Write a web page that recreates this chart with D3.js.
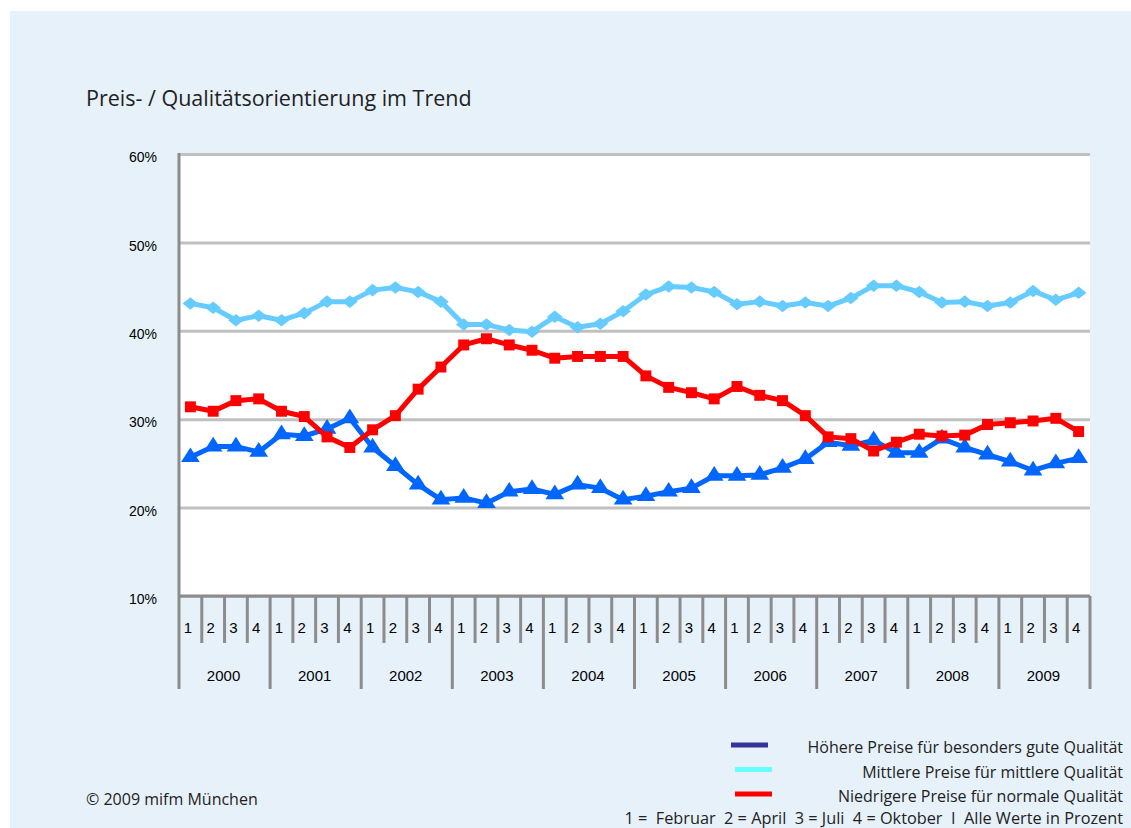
<!DOCTYPE html>
<html>
<head>
<meta charset="utf-8">
<script src="https://cdn.jsdelivr.net/npm/d3@7"></script>
<style>
  body { margin: 0; background: #fff; }
  svg { display: block; }
</style>
</head>
<body>
<script>
const years = ['2000', '2001', '2002', '2003', '2004', '2005', '2006', '2007', '2008', '2009']
const quarters = ['1', '2', '3', '4']
const yTicks = [10, 20, 30, 40, 50, 60]

// Höhere Preise für besonders gute Qualität
const hoehere = [25.7, 26.9, 26.9, 26.3, 28.3, 28.1, 28.9, 30.1, 26.8, 24.7,
  22.6, 20.9, 21.1, 20.5, 21.8, 22.1, 21.5, 22.6, 22.2, 20.9,
  21.3, 21.8, 22.2, 23.6, 23.6, 23.7, 24.5, 25.5, 27.4, 27.0,
  27.6, 26.2, 26.2, 27.8, 26.8, 26.0, 25.2, 24.2, 25.0, 25.6]
// Mittlere Preise für mittlere Qualität
const mittlere = [43.1, 42.6, 41.2, 41.7, 41.2, 42.0, 43.3, 43.3, 44.6, 44.9,
  44.4, 43.3, 40.7, 40.7, 40.1, 39.9, 41.6, 40.4, 40.8, 42.2,
  44.1, 45.0, 44.9, 44.4, 43.0, 43.3, 42.8, 43.2, 42.8, 43.7,
  45.1, 45.1, 44.4, 43.2, 43.3, 42.8, 43.2, 44.5, 43.5, 44.3]
// Niedrigere Preise für normale Qualität
const niedrigere = [31.4, 30.9, 32.1, 32.3, 30.9, 30.3, 28.0, 26.8, 28.8, 30.4,
  33.4, 35.9, 38.4, 39.1, 38.4, 37.8, 36.9, 37.1, 37.1, 37.1,
  34.9, 33.6, 33.0, 32.3, 33.7, 32.7, 32.1, 30.4, 28.0, 27.8,
  26.4, 27.4, 28.3, 28.1, 28.2, 29.4, 29.6, 29.8, 30.1, 28.6]

const seriesNames = [
  'Höhere Preise für besonders gute Qualität',
  'Mittlere Preise für mittlere Qualität',
  'Niedrigere Preise für normale Qualität'
]

const width = 1131
const height = 828
const plot = { left: 179, right: 1090, top: 154, bottom: 596 }
const sans = '"Open Sans", sans-serif'
const arial = '"Liberation Sans", Arial, sans-serif'

const periods = []
years.forEach(y => quarters.forEach(q => periods.push(y + '-' + q)))

const svg = d3.select('body').append('svg')
  .attr('width', width)
  .attr('height', height)

svg.append('rect')
  .attr('x', 10).attr('y', 11)
  .attr('width', width - 10).attr('height', height - 11)
  .attr('fill', '#e7f1fa')

svg.append('rect')
  .attr('x', plot.left).attr('y', plot.top)
  .attr('width', plot.right - plot.left).attr('height', plot.bottom - plot.top)
  .attr('fill', '#fff')

const x = d3.scaleBand()
  .domain(periods)
  .range([plot.left, plot.right])
  .padding(0)

const y = d3.scaleLinear()
  .domain([10, 60])
  .range([plot.bottom, plot.top])

// gridlines + y labels
const yAxis = svg.append('g')
  .attr('transform', 'translate(' + plot.left + ',0)')
  .call(d3.axisLeft(y)
    .tickValues(yTicks)
    .tickSize(-(plot.right - plot.left))
    .tickPadding(22)
    .tickFormat(d => d + '%'))
yAxis.select('.domain').remove()
yAxis.selectAll('.tick line')
  .attr('stroke', '#c0c0c0')
  .attr('stroke-width', 3)
yAxis.selectAll('.tick text')
  .attr('dy', '0.55em')
  .attr('fill', '#000')
  .style('font-family', arial)
  .style('font-size', '14px')

// x axis: boundary ticks, quarter and year labels
const xAxis = svg.append('g')
const bounds = d3.range(periods.length + 1)
const bx = i => i < periods.length ? x(periods[i]) : plot.right

xAxis.selectAll('line.tick')
  .data(bounds)
  .join('line')
  .attr('class', 'tick')
  .attr('x1', bx).attr('x2', bx)
  .attr('y1', plot.bottom)
  .attr('y2', i => i % 4 === 0 ? 689 : 643)
  .attr('stroke', '#8c8c8c')
  .attr('stroke-width', 3)

xAxis.selectAll('text.q')
  .data(periods)
  .join('text')
  .attr('class', 'q')
  .attr('x', d => x(d) + x.bandwidth() / 2 - 2.5)
  .attr('y', 633)
  .attr('text-anchor', 'middle')
  .style('font-family', arial)
  .style('font-size', '15px')
  .text(d => d.split('-')[1])

xAxis.selectAll('text.yr')
  .data(years)
  .join('text')
  .attr('class', 'yr')
  .attr('x', d => x(d + '-1') + x.bandwidth() * 2 - 1)
  .attr('y', 681)
  .attr('text-anchor', 'middle')
  .style('font-family', arial)
  .style('font-size', '15px')
  .text(d => d)

// axis lines
svg.append('line')
  .attr('x1', plot.left).attr('x2', plot.right)
  .attr('y1', plot.bottom).attr('y2', plot.bottom)
  .attr('stroke', '#8c8c8c').attr('stroke-width', 3)
svg.append('line')
  .attr('x1', plot.left).attr('x2', plot.left)
  .attr('y1', plot.top - 1).attr('y2', plot.bottom)
  .attr('stroke', '#8c8c8c').attr('stroke-width', 3)

// series
const series = [
  { values: hoehere, color: '#0066ff', symbol: d3.symbolTriangle, size: 125, sx: 1.1 },
  { values: mittlere, color: '#66ccff', symbol: d3.symbolDiamond2, size: 100, sx: 1.25 },
  { values: niedrigere, color: '#ff0000', symbol: d3.symbolSquare, size: 120, sx: 1 }
]

const cx = i => x(periods[i]) + x.bandwidth() / 2
const line = d3.line()
  .x((d, i) => cx(i))
  .y(d => y(d))

series.forEach(s => {
  const g = svg.append('g')
  g.append('path')
    .datum(s.values)
    .attr('d', line)
    .attr('fill', 'none')
    .attr('stroke', s.color)
    .attr('stroke-width', 5)
    .attr('stroke-linejoin', 'round')
  g.selectAll('path.m')
    .data(s.values)
    .join('path')
    .attr('class', 'm')
    .attr('d', d3.symbol(s.symbol, s.size))
    .attr('transform', (d, i) => 'translate(' + cx(i) + ',' + y(d) + ') scale(' + s.sx + ',1)')
    .attr('fill', s.color)
})

// title
svg.append('text')
  .attr('x', 86).attr('y', 106)
  .style('font-family', sans)
  .style('font-size', '21.5px')
  .attr('fill', '#222')
  .text('Preis- / Qualitätsorientierung im Trend')

// legend
const legendColors = ['#333399', '#66ffff', '#ff0000']
const legend = svg.append('g')
seriesNames.forEach((name, i) => {
  const ly = 745 + i * 24.5
  legend.append('line')
    .attr('x1', i === 0 ? 731 : 735).attr('x2', i === 0 ? 768 : 772)
    .attr('y1', ly).attr('y2', ly)
    .attr('stroke', legendColors[i])
    .attr('stroke-width', 5)
  legend.append('text')
    .attr('x', 1123).attr('y', ly + 8)
    .attr('text-anchor', 'end')
    .style('font-family', sans)
    .style('font-size', '16px')
    .attr('fill', '#222')
    .text(name)
})

svg.append('text')
  .attr('x', 1123).attr('y', 824)
  .attr('text-anchor', 'end')
  .style('font-family', sans)
  .style('font-size', '16.3px')
  .style('white-space', 'pre')
  .attr('fill', '#222')
  .text('1 =  Februar  2 = April  3 = Juli  4 = Oktober  I  Alle Werte in Prozent')

svg.append('text')
  .attr('x', 86).attr('y', 805)
  .style('font-family', sans)
  .style('font-size', '16px')
  .attr('fill', '#222')
  .text('© 2009 mifm München')
</script>
</body>
</html>
